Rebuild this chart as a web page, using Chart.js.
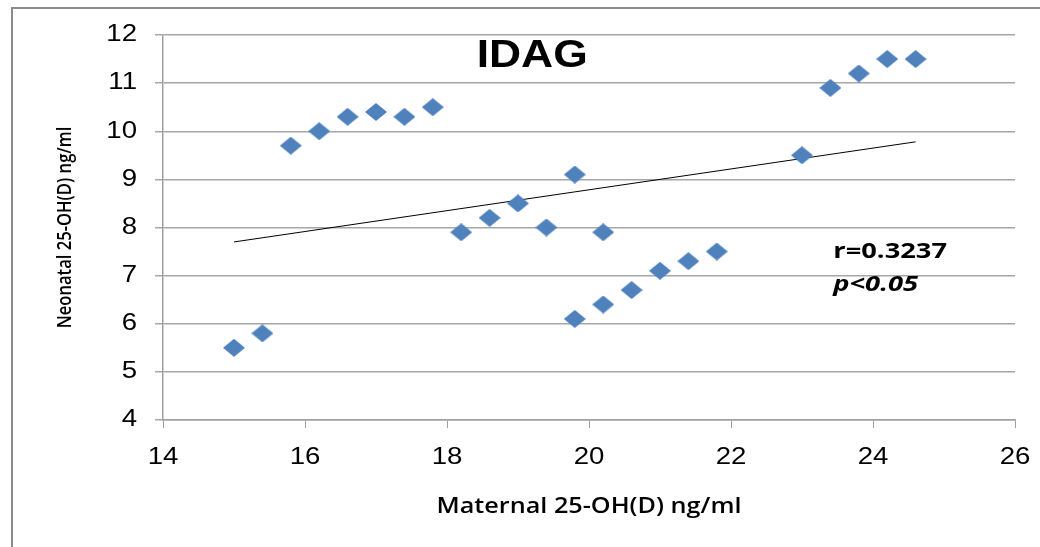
<!DOCTYPE html>
<html lang="en">
<head>
<meta charset="UTF-8">
<title>IDAG</title>
<script src="https://cdn.jsdelivr.net/npm/chart.js@4.4.0/dist/chart.umd.min.js"></script>
<style>
  html, body { margin: 0; padding: 0; background: #fff; }
  #wrap { width: 1040px; height: 547px; position: relative; }
</style>
</head>
<body>
<div id="wrap"><canvas id="chart" width="1040" height="547"></canvas></div>
<script>
// data
var maternal = [15.0, 15.4, 15.8, 16.2, 16.6, 17.0, 17.4, 17.8, 18.2, 18.6, 19.0, 19.4, 19.8, 20.2,
                19.8, 20.2, 20.6, 21.0, 21.4, 21.8, 23.0, 23.4, 23.8, 24.2, 24.6];
var neonatal = [5.5, 5.8, 9.7, 10.0, 10.3, 10.4, 10.3, 10.5, 7.9, 8.2, 8.5, 8.0, 9.1, 7.9,
                6.1, 6.4, 6.7, 7.1, 7.3, 7.5, 9.5, 10.9, 11.2, 11.5, 11.5];
var trendX = [15.0, 24.6];
var trendY = [7.7, 9.78];
var xTicks = [14, 16, 18, 20, 22, 24, 26];
var yTicks = [4, 5, 6, 7, 8, 9, 10, 11, 12];
var stats = ['r=0.3237', 'p<0.05'];
var xTitle = 'Maternal 25-OH(D) ng/ml';
var yTitle = 'Neonatal 25-OH(D) ng/ml';

// the original picture is stretched sideways, text is drawn with this factor
var STRETCH = 1.2;

// excel style diamond, a bit wider than tall
var diamond = document.createElement('canvas');
diamond.width = 22; diamond.height = 18;
var dc = diamond.getContext('2d');
dc.fillStyle = '#4F81BD';
dc.beginPath();
dc.moveTo(11, 0); dc.lineTo(22, 9); dc.lineTo(11, 18); dc.lineTo(0, 9);
dc.closePath();
dc.fill();

var points = maternal.map(function(x, i) { return { x: x, y: neonatal[i] }; });
var trend = trendX.map(function(x, i) { return { x: x, y: trendY[i] }; });

function wideText(c, txt, x, y, sx, rot) {
  c.save();
  c.translate(x, y);
  if (rot) c.rotate(rot);
  c.scale(sx, 1);
  c.fillText(txt, 0, 0);
  c.restore();
}

var extras = {
  id: 'extras',
  beforeDraw: function(chart) {
    var c = chart.ctx;
    c.save();
    c.strokeStyle = '#8c8c8c';
    c.lineWidth = 2;
    c.beginPath();
    c.moveTo(12, 560); c.lineTo(12, 8); c.lineTo(1050, 8);
    c.stroke();
    c.restore();
  },
  afterDatasetsDraw: function(chart) {
    var c = chart.ctx, xs = chart.scales.x, ys = chart.scales.y, a = chart.chartArea;
    c.save();
    c.fillStyle = '#000';
    c.textBaseline = 'middle';

    // tick labels
    c.font = '23px "Liberation Sans", Arial, sans-serif';
    c.textAlign = 'right';
    ys.ticks.forEach(function(t) {
      wideText(c, String(t.value), a.left - 26, ys.getPixelForValue(t.value), STRETCH);
    });
    c.textAlign = 'center';
    xs.ticks.forEach(function(t) {
      wideText(c, String(t.value), xs.getPixelForValue(t.value), a.bottom + 38, STRETCH);
    });

    c.font = 'bold 38px "Liberation Sans", Arial, sans-serif';
    wideText(c, 'IDAG', xs.getPixelForValue(19.2), ys.getPixelForValue(11.55), 1.17);
    c.font = '600 21px "Open Sans", sans-serif';
    wideText(c, xTitle, (a.left + a.right) / 2, 507, STRETCH);
    c.font = '600 20px "Open Sans", sans-serif';
    wideText(c, yTitle, 65, (a.top + a.bottom) / 2, 0.83, -Math.PI / 2);
    c.textAlign = 'left';
    c.font = 'bold 21px "Open Sans", sans-serif';
    wideText(c, stats[0], xs.getPixelForValue(23.44), ys.getPixelForValue(7.5), 1.3);
    c.font = 'italic bold 21px "Open Sans", sans-serif';
    wideText(c, stats[1], xs.getPixelForValue(23.44), ys.getPixelForValue(6.8), 1.3);
    c.restore();
  }
};

new Chart(document.getElementById('chart'), {
  type: 'scatter',
  data: {
    datasets: [{
      label: 'IDAG',
      data: points,
      pointStyle: diamond,
      pointRadius: 10,
      pointHoverRadius: 10
    }, {
      type: 'line',
      label: 'trend',
      data: trend,
      borderColor: '#000',
      borderWidth: 1,
      pointRadius: 0,
      fill: false
    }]
  },
  options: {
    responsive: false,
    animation: false,
    layout: { padding: { top: 35, right: 25, left: 0, bottom: 0 } },
    plugins: { legend: { display: false }, tooltip: { enabled: false } },
    scales: {
      x: {
        type: 'linear',
        min: 14, max: 26,
        afterBuildTicks: function(s) { s.ticks = xTicks.map(function(v) { return { value: v }; }); },
        afterFit: function(s) { s.height = 127; },
        grid: { drawOnChartArea: false, drawTicks: true, tickLength: 8, color: '#a0a0a0' },
        border: { color: '#a0a0a0', width: 1.5 },
        ticks: { display: false }
      },
      y: {
        min: 4, max: 12,
        afterBuildTicks: function(s) { s.ticks = yTicks.map(function(v) { return { value: v }; }); },
        afterFit: function(s) { s.width = 163; },
        grid: { drawTicks: true, tickLength: 8, color: '#a6a6a6', lineWidth: 1.5 },
        border: { color: '#a0a0a0', width: 1.5 },
        ticks: { display: false }
      }
    }
  },
  plugins: [extras]
});
</script>
</body>
</html>
